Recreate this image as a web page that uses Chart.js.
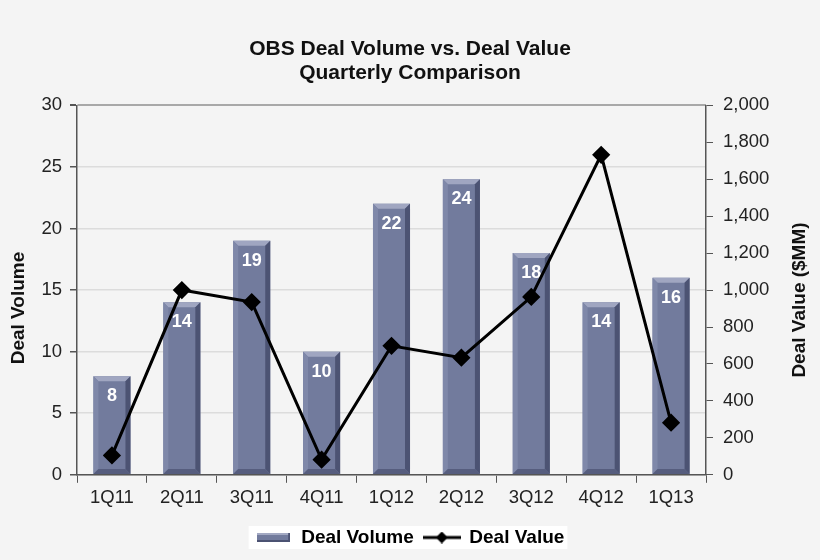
<!DOCTYPE html>
<html>
<head>
<meta charset="utf-8">
<script src="https://cdn.jsdelivr.net/npm/chart.js@4/dist/chart.umd.min.js"></script>
<style>
  html, body { margin: 0; padding: 0; background: #f4f4f4; }
  #wrap { width: 820px; height: 560px; position: relative; }
</style>
</head>
<body>
<div id="wrap"><canvas id="dealChart"></canvas></div>
<script>
// Chart data
const quarters = ['1Q11', '2Q11', '3Q11', '4Q11', '1Q12', '2Q12', '3Q12', '4Q12', '1Q13'];
const dealVolume = [8, 14, 19, 10, 22, 24, 18, 14, 16];
const dealValue = [105, 1000, 935, 82, 698, 634, 963, 1732, 282];
const titleLines = ['OBS Deal Volume vs. Deal Value', 'Quarterly Comparison'];

const FONT = '"Liberation Sans", Arial, sans-serif';
const BAR_FACE = '#727b9d';

// Build legend icons on small offscreen canvases
function makeBarIcon() {
    const c = document.createElement('canvas');
    c.width = 33; c.height = 9;
    const g = c.getContext('2d');
    g.fillStyle = BAR_FACE;
    g.fillRect(0, 0, 33, 9);
    g.fillStyle = '#a3a9c3';
    g.fillRect(0, 0, 33, 2);
    g.fillStyle = '#4b5272';
    g.fillRect(0, 7, 33, 2);
    g.fillRect(31, 0, 2, 9);
    return c;
}

function makeLineIcon() {
    const c = document.createElement('canvas');
    c.width = 38; c.height = 12;
    const g = c.getContext('2d');
    g.strokeStyle = '#000';
    g.lineWidth = 3;
    g.beginPath();
    g.moveTo(0, 6); g.lineTo(38, 6);
    g.stroke();
    g.fillStyle = '#000';
    g.beginPath();
    g.moveTo(19, 0); g.lineTo(25, 6); g.lineTo(19, 12); g.lineTo(13, 6);
    g.closePath();
    g.fill();
    return c;
}

const barIcon = makeBarIcon();
const lineIcon = makeLineIcon();

// Bevel edges and value labels on the bars
const barDecor = {
    id: 'barDecor',
    afterDatasetDraw(chart, args) {
        if (args.index !== 0) return;
        const ctx = chart.ctx;
        const meta = chart.getDatasetMeta(0);
        meta.data.forEach((bar, i) => {
            const left = bar.x - bar.width / 2;
            const right = bar.x + bar.width / 2;
            const top = bar.y;
            const bottom = bar.base;
            const b = 5;
            ctx.save();
            // top edge
            ctx.fillStyle = '#a0a6c1';
            ctx.beginPath();
            ctx.moveTo(left, top); ctx.lineTo(right, top);
            ctx.lineTo(right - b, top + b); ctx.lineTo(left + b, top + b);
            ctx.closePath(); ctx.fill();
            // left edge
            ctx.fillStyle = '#7f88a9';
            ctx.beginPath();
            ctx.moveTo(left, top); ctx.lineTo(left + b, top + b);
            ctx.lineTo(left + b, bottom - b); ctx.lineTo(left, bottom);
            ctx.closePath(); ctx.fill();
            // right edge
            ctx.fillStyle = '#4c5373';
            ctx.beginPath();
            ctx.moveTo(right, top); ctx.lineTo(right - b, top + b);
            ctx.lineTo(right - b, bottom - b); ctx.lineTo(right, bottom);
            ctx.closePath(); ctx.fill();
            // bottom edge
            ctx.fillStyle = '#565d7e';
            ctx.beginPath();
            ctx.moveTo(left, bottom); ctx.lineTo(right, bottom);
            ctx.lineTo(right - b, bottom - b); ctx.lineTo(left + b, bottom - b);
            ctx.closePath(); ctx.fill();
            // value label
            ctx.fillStyle = '#ffffff';
            ctx.font = 'bold 18px ' + FONT;
            ctx.textAlign = 'center';
            ctx.textBaseline = 'middle';
            ctx.fillText(String(dealVolume[i]), bar.x, top + 20);
            ctx.restore();
        });
    }
};

// Rotated axis title, reading upward
function drawAxisTitle(ctx, text, x, y) {
    ctx.save();
    ctx.translate(x, y);
    ctx.rotate(-Math.PI / 2);
    ctx.fillStyle = '#111';
    ctx.font = 'bold 19px ' + FONT;
    ctx.textAlign = 'center';
    ctx.textBaseline = 'middle';
    ctx.fillText(text, 0, 0);
    ctx.restore();
}

// White box behind the legend, and both axis titles
const extras = {
    id: 'extras',
    beforeDraw(chart) {
        const boxes = chart.legend.legendHitBoxes;
        if (!boxes || !boxes.length) return;
        let minX = Infinity, maxX = -Infinity, minY = Infinity, maxY = -Infinity;
        boxes.forEach(h => {
            minX = Math.min(minX, h.left);
            maxX = Math.max(maxX, h.left + h.width);
            minY = Math.min(minY, h.top);
            maxY = Math.max(maxY, h.top + h.height);
        });
        const ctx = chart.ctx;
        ctx.save();
        ctx.fillStyle = '#ffffff';
        ctx.fillRect(minX - 7, minY - 2, maxX - minX + 10, maxY - minY + 4);
        ctx.restore();
    },
    afterDraw(chart) {
        drawAxisTitle(chart.ctx, 'Deal Volume', 19, 308);
        drawAxisTitle(chart.ctx, 'Deal Value ($MM)', 800, 300);
    }
};

const ctx = document.getElementById('dealChart').getContext('2d');

new Chart(ctx, {
    type: 'bar',
    data: {
        labels: quarters,
        datasets: [
            {
                type: 'bar',
                label: 'Deal Volume',
                data: dealVolume,
                backgroundColor: BAR_FACE,
                borderWidth: 0,
                barPercentage: 0.53,
                categoryPercentage: 1,
                yAxisID: 'y',
                order: 2
            },
            {
                type: 'line',
                label: 'Deal Value',
                data: dealValue,
                borderColor: '#000',
                backgroundColor: '#000',
                borderWidth: 3,
                pointStyle: 'rectRot',
                pointRadius: 7,
                pointHoverRadius: 7,
                tension: 0,
                yAxisID: 'y1',
                order: 1
            }
        ]
    },
    options: {
        responsive: true,
        maintainAspectRatio: false,
        animation: false,
        devicePixelRatio: 1,
        layout: {
            padding: { top: 37, right: 0, left: 0, bottom: 3 }
        },
        plugins: {
            title: {
                display: true,
                text: titleLines,
                color: '#111',
                font: { family: FONT, size: 21, weight: 'bold', lineHeight: 1.15 },
                padding: { top: 0, bottom: 20 }
            },
            legend: {
                position: 'bottom',
                labels: {
                    usePointStyle: true,
                    pointStyleWidth: 36,
                    color: '#000',
                    font: { family: FONT, size: 19, weight: 'bold' },
                    padding: 10,
                    generateLabels(chart) {
                        return chart.data.datasets.map((ds, i) => ({
                            text: ds.label,
                            pointStyle: i === 0 ? barIcon : lineIcon,
                            fillStyle: ds.backgroundColor,
                            strokeStyle: ds.borderColor,
                            lineWidth: 0,
                            hidden: false,
                            datasetIndex: i,
                            fontColor: '#000'
                        }));
                    }
                }
            },
            tooltip: { enabled: false }
        },
        scales: {
            x: {
                offset: true,
                grid: {
                    offset: true,
                    drawOnChartArea: false,
                    tickLength: 8,
                    tickColor: '#555'
                },
                border: { color: '#555', width: 1.5 },
                ticks: {
                    color: '#222',
                    font: { family: FONT, size: 18.5 },
                    padding: 4
                },
                afterFit(scale) { scale.height += 5; }
            },
            y: {
                position: 'left',
                min: 0,
                max: 30,
                ticks: {
                    stepSize: 5,
                    color: '#222',
                    font: { family: FONT, size: 18.5 },
                    padding: 8
                },
                grid: {
                    color: ctx => (ctx.tick && ctx.tick.value === 30) ? '#a8a8a8' : '#dcdcdc',
                    lineWidth: ctx => (ctx.tick && ctx.tick.value === 30) ? 2 : 1.5,
                    tickLength: 7,
                    tickColor: '#555'
                },
                border: { color: '#555', width: 1.5 },
                afterFit(scale) { scale.width = 77; }
            },
            y1: {
                position: 'right',
                min: 0,
                max: 2000,
                ticks: {
                    stepSize: 200,
                    color: '#222',
                    font: { family: FONT, size: 18.5 },
                    padding: 10,
                    callback: v => v.toLocaleString('en-US')
                },
                grid: {
                    drawOnChartArea: false,
                    tickLength: 7,
                    tickColor: '#555'
                },
                border: { color: '#555', width: 1.5 },
                afterFit(scale) { scale.width = 114; }
            }
        }
    },
    plugins: [barDecor, extras]
});
</script>
</body>
</html>
